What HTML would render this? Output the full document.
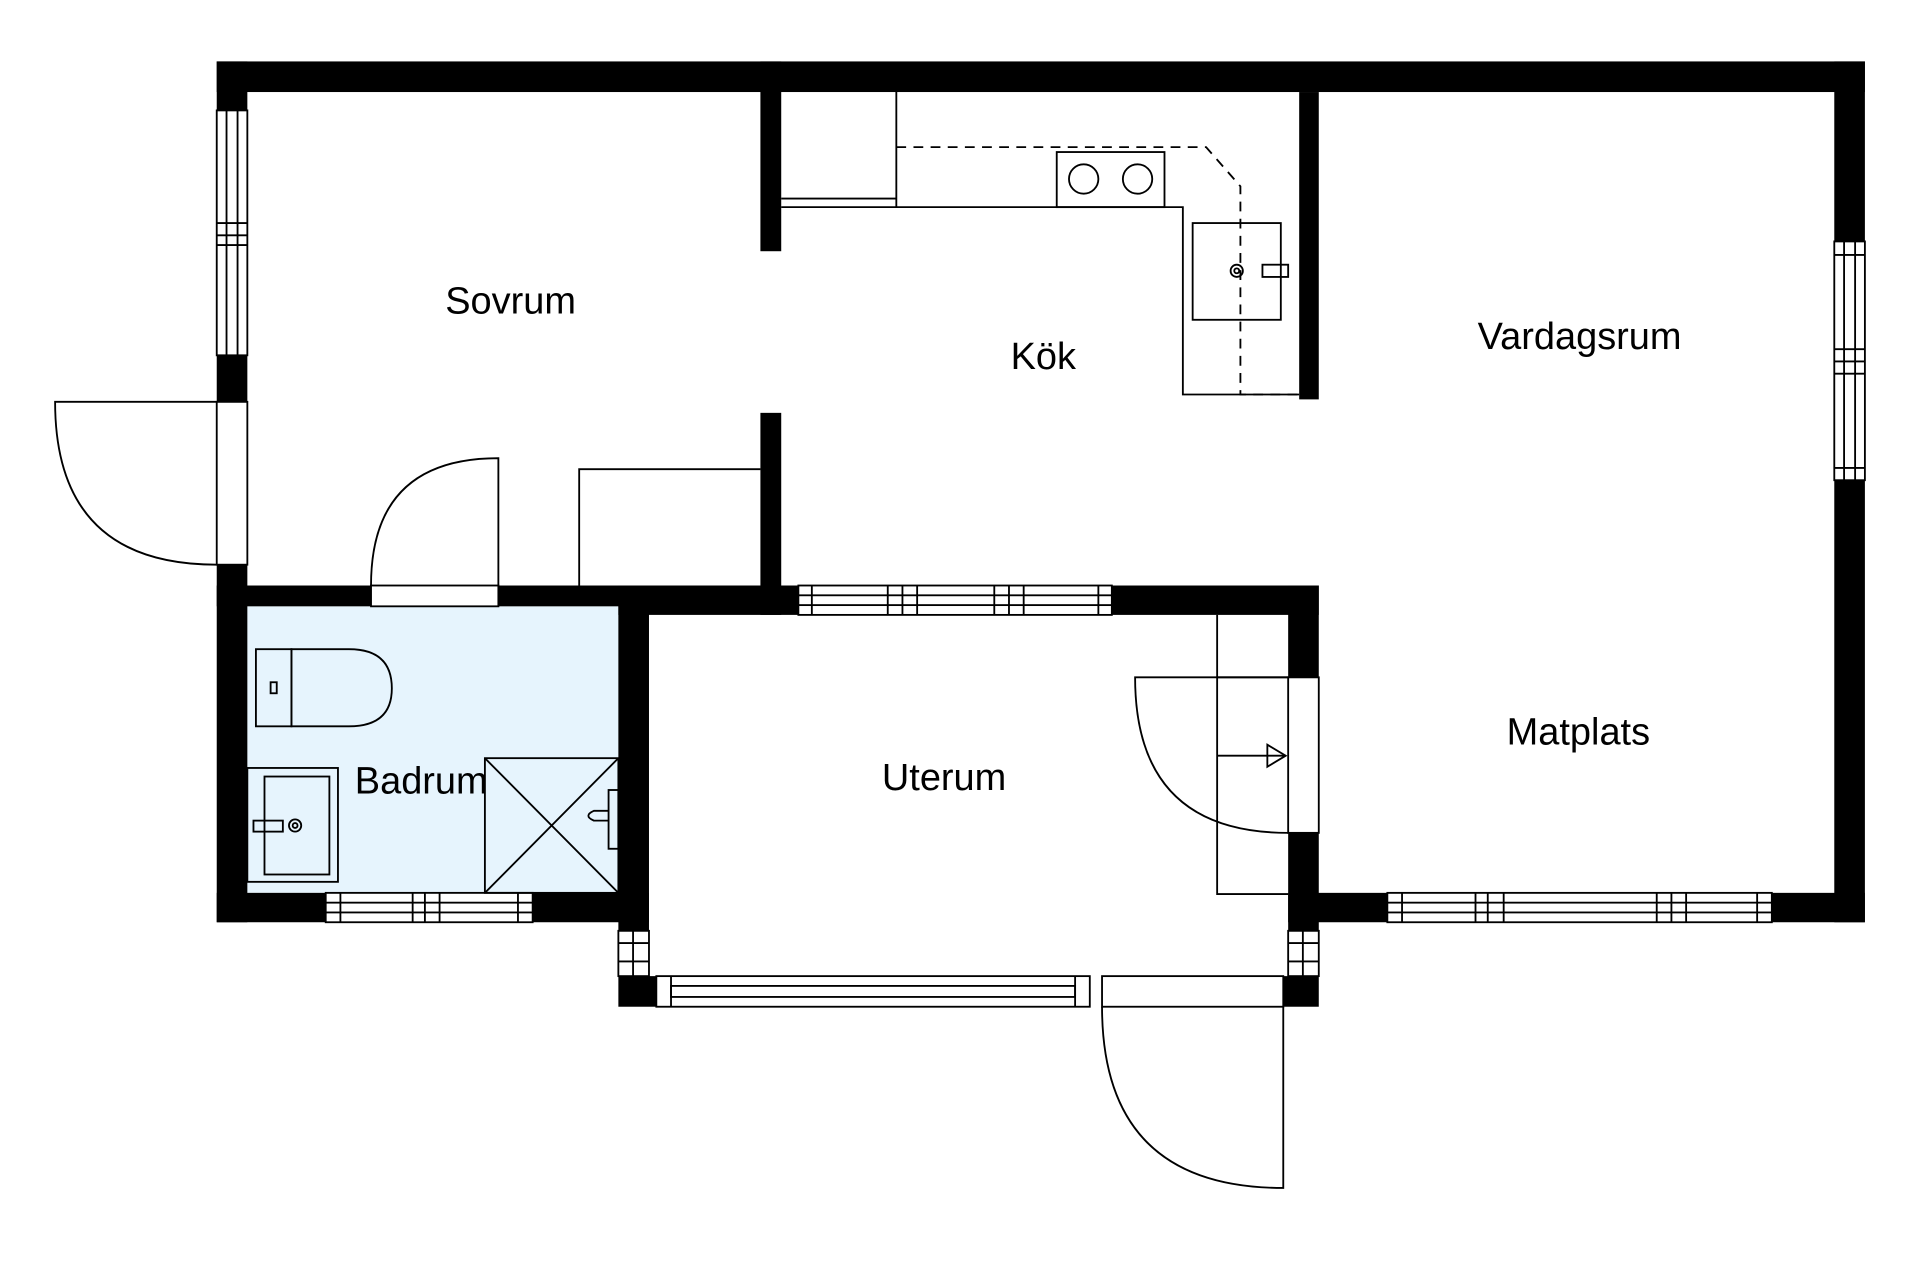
<!DOCTYPE html>
<html><head><style>html,body{margin:0;padding:0;background:#fff}svg{display:block}</style></head>
<body>
<svg width="1920" height="1280" viewBox="0 0 1568 1045" xmlns="http://www.w3.org/2000/svg" font-family="Liberation Sans, sans-serif">
<rect width="1568" height="1045" fill="#fff"/>
<rect x="202" y="495" width="303" height="234" fill="#e6f4fd"/>
<g fill="#000">
<rect x="177" y="50" width="1346" height="25"/>
<rect x="177" y="50" width="25" height="40"/>
<rect x="177" y="290" width="25" height="38"/>
<rect x="177" y="461" width="25" height="292"/>
<rect x="1498" y="50" width="25" height="147"/>
<rect x="1498" y="392" width="25" height="361"/>
<rect x="1052" y="729" width="81" height="24"/>
<rect x="1447" y="729" width="76" height="24"/>
<rect x="621" y="50" width="17" height="155"/>
<rect x="621" y="337" width="17" height="165"/>
<rect x="1061" y="75" width="16" height="251"/>
<rect x="177" y="478" width="126" height="17"/>
<rect x="407" y="478" width="245" height="17"/>
<rect x="505" y="478" width="147" height="24"/>
<rect x="908" y="478" width="169" height="24"/>
<rect x="505" y="478" width="25" height="282"/>
<rect x="177" y="729" width="89" height="24"/>
<rect x="435" y="729" width="95" height="24"/>
<rect x="1052" y="478" width="25" height="75"/>
<rect x="1052" y="680" width="25" height="80"/>
<rect x="505" y="797" width="31" height="25"/>
<rect x="1048" y="797" width="29" height="25"/>
</g>
<g fill="#fff" stroke="#000" stroke-width="1.5">
<!-- left window -->
<rect x="177" y="90" width="25" height="200"/><rect x="185" y="90" width="9" height="200"/>
<line x1="177" y1="182" x2="202" y2="182"/><line x1="177" y1="192" x2="202" y2="192"/><line x1="177" y1="200" x2="202" y2="200"/>
<!-- left door frame -->
<rect x="177" y="328" width="25" height="133"/>
<!-- right window -->
<rect x="1498" y="197" width="25" height="195"/><rect x="1506" y="197" width="9" height="195"/>
<line x1="1498" y1="208" x2="1523" y2="208"/><line x1="1498" y1="285" x2="1523" y2="285"/><line x1="1498" y1="295" x2="1523" y2="295"/><line x1="1498" y1="305" x2="1523" y2="305"/><line x1="1498" y1="382" x2="1523" y2="382"/>
<!-- bottom right window -->
<rect x="1133" y="729" width="314" height="24"/><rect x="1133" y="737" width="314" height="8"/>
<line x1="1145" y1="729" x2="1145" y2="753"/><line x1="1205" y1="729" x2="1205" y2="753"/><line x1="1215" y1="729" x2="1215" y2="753"/><line x1="1228" y1="729" x2="1228" y2="753"/><line x1="1353" y1="729" x2="1353" y2="753"/><line x1="1365" y1="729" x2="1365" y2="753"/><line x1="1377" y1="729" x2="1377" y2="753"/><line x1="1435" y1="729" x2="1435" y2="753"/>
<!-- middle window -->
<rect x="652" y="478" width="256" height="24"/><rect x="652" y="486" width="256" height="8"/>
<line x1="663" y1="478" x2="663" y2="502"/><line x1="725" y1="478" x2="725" y2="502"/><line x1="737" y1="478" x2="737" y2="502"/><line x1="749" y1="478" x2="749" y2="502"/><line x1="812" y1="478" x2="812" y2="502"/><line x1="824" y1="478" x2="824" y2="502"/><line x1="836" y1="478" x2="836" y2="502"/><line x1="897" y1="478" x2="897" y2="502"/>
<!-- bath window -->
<rect x="266" y="729" width="169" height="24"/><rect x="266" y="737" width="169" height="8"/>
<line x1="278" y1="729" x2="278" y2="753"/><line x1="337" y1="729" x2="337" y2="753"/><line x1="347" y1="729" x2="347" y2="753"/><line x1="359" y1="729" x2="359" y2="753"/><line x1="423" y1="729" x2="423" y2="753"/>
<!-- bath door frame -->
<rect x="303" y="478" width="104" height="17"/>
<!-- small windows -->
<rect x="505" y="760" width="25" height="37"/><line x1="505" y1="770" x2="530" y2="770"/><line x1="505" y1="785" x2="530" y2="785"/><line x1="517" y1="760" x2="517" y2="797"/>
<rect x="1052" y="760" width="25" height="37"/><line x1="1052" y1="770" x2="1077" y2="770"/><line x1="1052" y1="785" x2="1077" y2="785"/><line x1="1064" y1="760" x2="1064" y2="797"/>
<!-- uterum bottom window -->
<rect x="536" y="797" width="354" height="25"/><rect x="548" y="805" width="330" height="9"/>
<line x1="548" y1="797" x2="548" y2="822"/><line x1="878" y1="797" x2="878" y2="822"/>
<!-- bottom door frame -->
<rect x="900" y="797" width="148" height="25"/>
<!-- uterum right door frame -->
<rect x="1052" y="553" width="25" height="127"/>
</g>
<g fill="none" stroke="#000" stroke-width="1.5">
<!-- doors -->
<path d="M177 461 Q45 461 45 328 L177 328"/>
<path d="M407 478 L407 374 Q303 374 303 478"/>
<path d="M1048 822 L1048 970 Q900 970 900 822"/>
<path d="M1052 680 Q927 680 927 553 L1052 553"/>
<!-- sovrum wardrobe -->
<path d="M473 478 L473 383 L621 383"/>
<!-- kitchen -->
<path d="M638 162 L732 162 M638 169 L966 169 L966 322 L1061 322"/>
<line x1="732" y1="75" x2="732" y2="169"/>
<rect x="863" y="124" width="88" height="45"/>
<circle cx="885" cy="146" r="12"/><circle cx="929" cy="146" r="12"/>
<rect x="974" y="182" width="72" height="79"/>
<circle cx="1010" cy="221" r="5"/><circle cx="1010" cy="221" r="2"/>
<rect x="1031" y="216" width="21" height="10"/>
<path d="M732 120 L985 120 L1013 152 L1013 322 L1061 322" stroke-dasharray="8 6"/>
<!-- uterum stairs -->
<path d="M994 502 L994 730 L1052 730 M994 553 L1052 553 M994 617 L1050 617"/>
<path d="M1035 608 L1050 617 L1035 626 Z"/>
<!-- toilet -->
<path d="M238 530 L285 530 Q320 530 320 562 Q320 593 285 593 L238 593 Z"/>
<rect x="209" y="530" width="29" height="63"/>
<rect x="221" y="557" width="5" height="9"/>
<!-- sink -->
<rect x="202" y="627" width="74" height="93"/>
<rect x="216" y="634" width="53" height="80"/>
<rect x="207" y="670" width="24" height="9"/>
<circle cx="241" cy="674" r="5"/><circle cx="241" cy="674" r="2"/>
<!-- shower -->
<rect x="396" y="619" width="109" height="110"/>
<path d="M396 619 L505 729 M505 619 L396 729"/>
<rect x="497" y="645" width="8" height="48"/>
<path d="M497 662 L485 662 Q476 666 485 670 L497 670"/>
</g>
<g font-size="31" fill="#000" text-anchor="middle">
<text x="417" y="256">Sovrum</text>
<text x="852" y="301">Kök</text>
<text x="1290" y="285">Vardagsrum</text>
<text x="1289" y="608">Matplats</text>
<text x="771" y="645">Uterum</text>
<text x="344" y="648">Badrum</text>
</g>
</svg>
</body></html>
